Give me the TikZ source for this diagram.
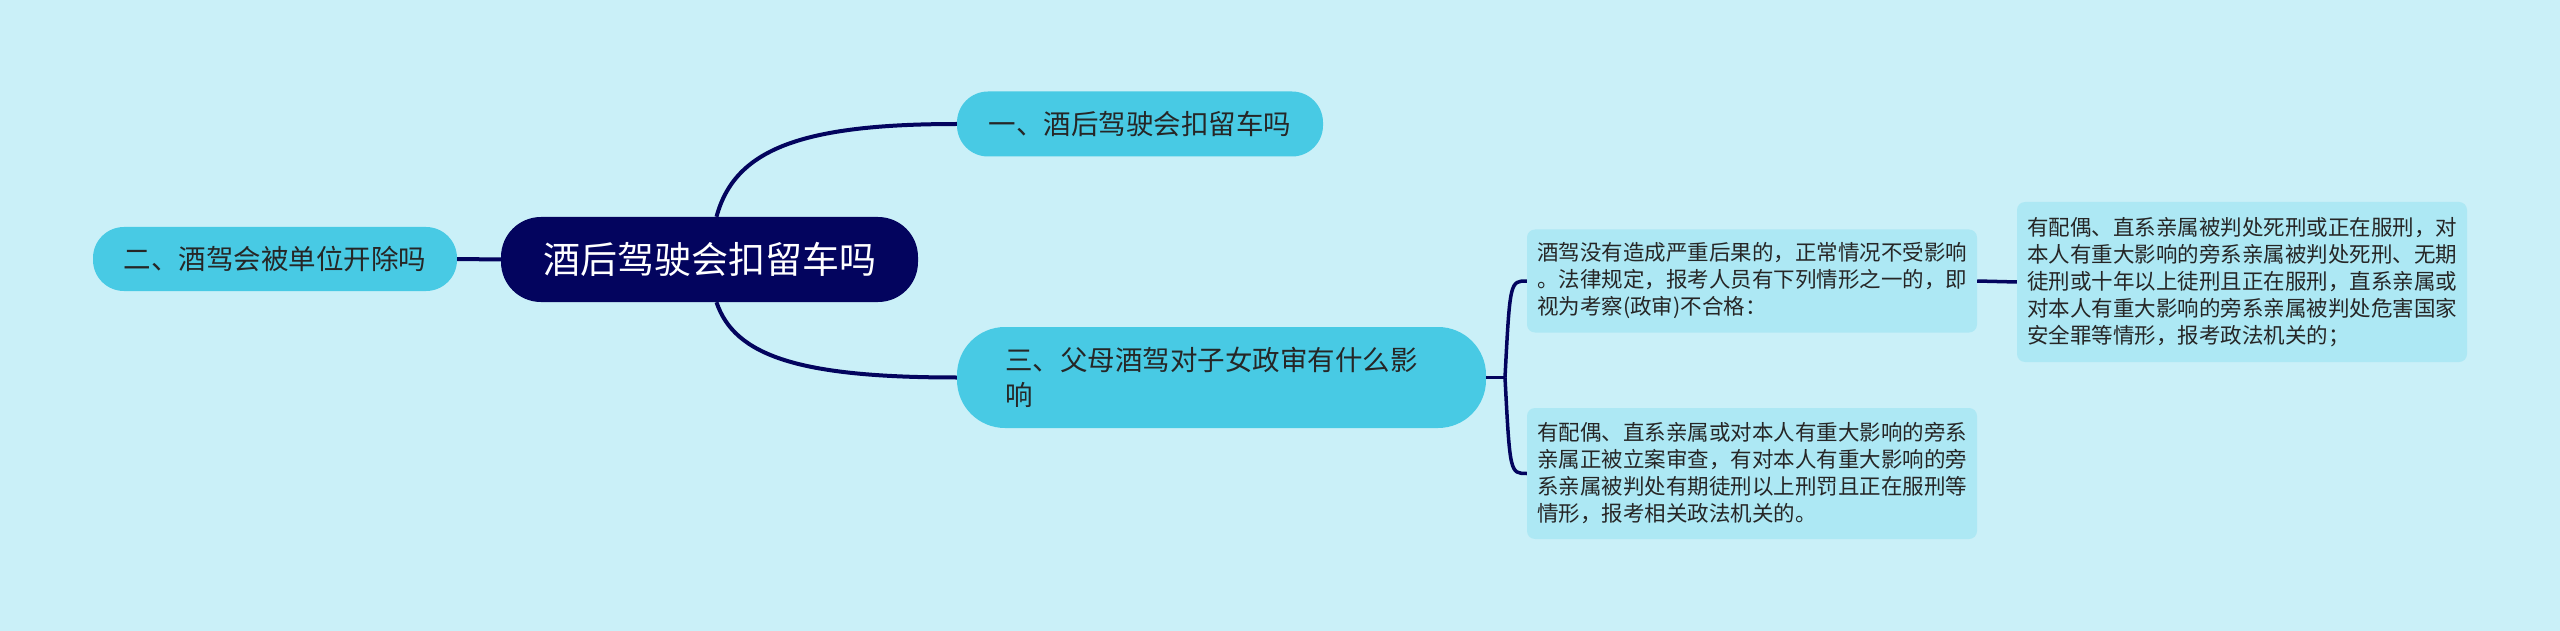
\documentclass[tikz,border=0pt]{standalone}
\usepackage{fontspec}
\usepackage{xcolor}
\usepackage{tikz}
\newfontfamily\cjk{Noto Sans CJK SC}
\definecolor{navy}{HTML}{03045E}
\definecolor{topicfill}{HTML}{48CAE4}
\definecolor{leaffill}{HTML}{ADE8F4}
\definecolor{canvas}{HTML}{CAF0F8}
\definecolor{ink}{HTML}{262626}

\begin{document}
\begin{tikzpicture}[
    x=1pt, y=-1pt,
    rootbox/.style={fill=navy, text=white, rounded corners=40pt, minimum width=417pt, minimum height=85pt, font=\cjk\fontsize{37}{44}\selectfont},
    topicbox/.style={fill=topicfill, text=ink, rounded corners=31pt, minimum width=366pt, minimum height=65pt, font=\cjk\fontsize{27.5}{35}\selectfont},
    leafbox/.style={fill=leaffill, text=ink, rounded corners=8pt, text width=430pt, inner xsep=10pt, align=left, font=\cjk\fontsize{21.5}{27}\selectfont},
    link/.style={draw=navy, line width=4pt},
]
    \fill[canvas] (0,0) rectangle (2560,631);

    \node[rootbox] (root) at (709.5,259.5) {酒后驾驶会扣留车吗};
    \node[topicbox] (drive) at (1140,124) {一、酒后驾驶会扣留车吗};
    \node[topicbox, minimum width=364pt, minimum height=64pt] (fired) at (275,259) {二、酒驾会被单位开除吗};
    \node[topicbox, rounded corners=48pt, text width=433pt, inner xsep=48pt, minimum height=101pt, align=left] (review) at (1221.5,377.5) {三、父母酒驾对子女政审有什么影\\响};

    \node[leafbox, minimum height=103pt] (normal) at (1752,281) {酒驾没有造成严重后果的，正常情况不受影响\\。法律规定，报考人员有下列情形之一的，即\\视为考察(政审)不合格：};
    \node[leafbox, minimum height=131pt] (relatives) at (1752,473.5) {有配偶、直系亲属或对本人有重大影响的旁系\\亲属正被立案审查，有对本人有重大影响的旁\\系亲属被判处有期徒刑以上刑罚且正在服刑等\\情形，报考相关政法机关的。};
    \node[leafbox, minimum height=160pt] (sentence) at (2242,282) {有配偶、直系亲属被判处死刑或正在服刑，对\\本人有重大影响的旁系亲属被判处死刑、无期\\徒刑或十年以上徒刑且正在服刑，直系亲属或\\对本人有重大影响的旁系亲属被判处危害国家\\安全罪等情形，报考政法机关的；};

    \coordinate (fork) at (1505,377.5);

    \draw[link] ([xshift=7pt]root.north) .. controls +(18,-67) and +(-157,0) .. (drive.west);
    \draw[link] ([xshift=7pt]root.south) .. controls +(18,54) and +(-157,0) .. (review.west);
    \draw[link] (fired.east) -- (root.west);
    \draw[link, line width=3.5pt] (review.east) -- (fork);
    \draw[link, line width=3.5pt] (fork) .. controls (1510,281) .. (normal.west);
    \draw[link, line width=3.5pt] (fork) .. controls (1510,473.5) .. (relatives.west);
    \draw[link, line width=3.5pt] (normal.east) -- (sentence.west);
\end{tikzpicture}
\end{document}
